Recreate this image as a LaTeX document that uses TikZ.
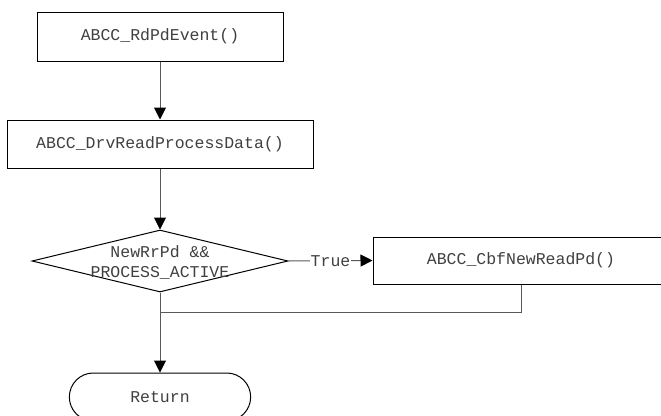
\documentclass[tikz,border=0pt]{standalone}
\usepackage{fontspec}
\setmainfont{Liberation Mono}
\usetikzlibrary{arrows.meta,shapes.geometric,shapes.misc}
\tikzset{
  box/.style={draw=black, line width=1pt, rectangle, inner sep=0pt},
  conn/.style={draw=black!65, line width=1pt},
  arr/.style={conn, -{Triangle[length=12pt,width=12pt,color=black]}},
  lbl/.style={text=black!75, font=\fontsize{16.5}{20}\selectfont},
}
\begin{document}
\begin{tikzpicture}[x=1pt, y=-1pt]
  \useasboundingbox (0,0) rectangle (661,415);
  % process boxes
  \node[box, lbl, minimum width=246pt, minimum height=49pt] (rdpd) at (160,36.5) {ABCC\_RdPdEvent()};
  \node[box, lbl, minimum width=306pt, minimum height=48pt] (drv) at (160,144) {ABCC\_DrvReadProcessData()};
  % decision
  \node[draw=black, line width=1pt, diamond, inner sep=0pt, minimum width=256pt, minimum height=62pt] (dec) at (160,261) {};
  \node[lbl, align=center, inner sep=0pt] (dectext) at (160,262) {NewRrPd \&\&\\PROCESS\_ACTIVE};
  % callback box
  \node[box, lbl, minimum width=296pt, minimum height=47pt] (cbf) at (521,260.5) {ABCC\_CbfNewReadPd()};
  % terminator
  \node[draw=black, line width=1pt, rounded rectangle, lbl, minimum width=188pt, minimum height=48pt] (ret) at (160,397) {Return};
  % connectors
  \draw[arr] (rdpd) -- (drv);
  \draw[arr] (drv) -- (dec);
  \draw[arr] (dec.east) -- node[lbl, fill=white, inner sep=1pt] (truelbl) {True} (cbf.west);
  \coordinate (join) at (160,312);
  \draw[conn] (cbf.south) |- (join);
  \draw[conn] (dec.south) -- (join);
  \draw[arr] (join) -- (ret.north);
\end{tikzpicture}
\end{document}
